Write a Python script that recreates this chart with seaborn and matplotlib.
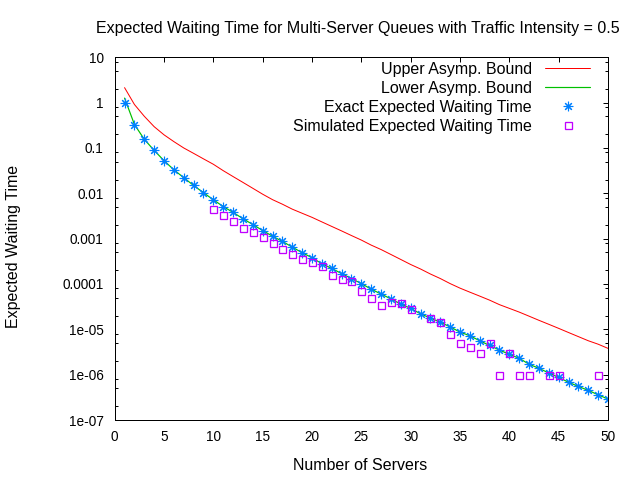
import numpy as np
import pandas as pd
import matplotlib
matplotlib.use("Agg")
import matplotlib.pyplot as plt
import seaborn as sns
from matplotlib.ticker import FixedLocator, FixedFormatter, NullFormatter

# ---- data ----
servers = list(range(1, 51))

upper_bound = [2.14, 0.91, 0.50, 0.295, 0.195, 0.138, 0.100, 0.076, 0.0575, 0.0437,
               0.0316, 0.0234, 0.0174, 0.0129, 0.00955, 0.00724, 0.00575, 0.00447, 0.00363, 0.00295,
               0.00234, 0.00186, 0.00148, 0.00117, 9.3e-4, 7.2e-4, 5.75e-4, 4.47e-4, 3.47e-4, 2.69e-4,
               2.14e-4, 1.66e-4, 1.32e-4, 1.02e-4, 8.1e-5, 6.6e-5, 5.4e-5, 4.4e-5, 3.5e-5, 2.9e-5,
               2.4e-5, 1.95e-5, 1.58e-5, 1.29e-5, 1.05e-5, 8.5e-6, 6.9e-6, 5.6e-6, 4.7e-6, 3.8e-6]

exact_wait = [1.0, 0.327, 0.155, 0.0885, 0.0525, 0.033, 0.0221, 0.0149, 0.0103, 0.0072,
              0.0051, 0.0038, 0.00275, 0.00205, 0.00151, 0.00113, 0.00087, 6.5e-4, 4.9e-4, 3.8e-4,
              2.8e-4, 2.2e-4, 1.7e-4, 1.32e-4, 1.02e-4, 7.7e-5, 6.0e-5, 4.7e-5, 3.6e-5, 2.9e-5,
              2.2e-5, 1.77e-5, 1.44e-5, 1.13e-5, 8.7e-6, 7.2e-6, 5.6e-6, 4.4e-6, 3.5e-6, 2.8e-6,
              2.3e-6, 1.7e-6, 1.38e-6, 1.09e-6, 8.7e-7, 6.8e-7, 5.5e-7, 4.5e-7, 3.6e-7, 2.9e-7]

lower_bound = [1.26, 0.33, 0.155, 0.0885, 0.0525, 0.033, 0.0221, 0.0149, 0.0103, 0.0072,
               0.0051, 0.0038, 0.00275, 0.00205, 0.00151, 0.00113, 0.00087, 6.5e-4, 4.9e-4, 3.8e-4,
               2.8e-4, 2.2e-4, 1.7e-4, 1.32e-4, 1.02e-4, 7.7e-5, 6.0e-5, 4.7e-5, 3.6e-5, 2.9e-5,
               2.2e-5, 1.77e-5, 1.44e-5, 1.13e-5, 8.7e-6, 7.2e-6, 5.6e-6, 4.4e-6, 3.5e-6, 2.8e-6,
               2.3e-6, 1.7e-6, 1.38e-6, 1.09e-6, 8.7e-7, 6.8e-7, 5.5e-7, 4.5e-7, 3.6e-7, 2.9e-7]

sim_servers = [10, 11, 12, 13, 14, 15, 16, 17, 18, 19, 20, 21, 22, 23, 24, 25, 26, 27, 28, 29,
               30, 32, 33, 34, 35, 36, 37, 38, 39, 40, 41, 42, 44, 45, 49]
sim_wait = [0.0046, 0.0034, 0.0025, 0.00175, 0.00143, 0.0011, 0.00079, 0.00058, 0.00045, 0.00036,
            0.00030, 0.00025, 0.000156, 0.000131, 0.000119, 7e-5, 5e-5, 3.5e-5, 4.1e-5, 3.8e-5,
            2.8e-5, 1.8e-5, 1.47e-5, 8e-6, 5e-6, 4e-6, 3e-6, 5e-6, 1e-6, 3e-6, 1e-6, 1e-6, 1e-6, 1e-6, 1e-6]

x_ticks = [0, 5, 10, 15, 20, 25, 30, 35, 40, 45, 50]
y_ticks = [10, 1, 0.1, 0.01, 0.001, 0.0001, 1e-05, 1e-06, 1e-07]
y_tick_labels = ["10", "1", "0.1", "0.01", "0.001", "0.0001", "1e-05", "1e-06", "1e-07"]

title = "Expected Waiting Time for Multi-Server Queues with Traffic Intensity = 0.5"
x_label = "Number of Servers"
y_label = "Expected Waiting Time"
labels = ["Upper Asymp. Bound", "Lower Asymp. Bound",
          "Exact Expected Waiting Time", "Simulated Expected Waiting Time"]

# ---- style ----
sns.set_theme(style="white")
plt.rcParams["font.family"] = ["Liberation Sans", "DejaVu Sans"]
TICK_FS = 9.8
TEXT_FS = 11.5

df = pd.DataFrame({"n": servers, "upper": upper_bound, "lower": lower_bound, "exact": exact_wait})
sim = pd.DataFrame({"n": sim_servers, "sim": sim_wait})

fig = plt.figure(figsize=(6.4, 4.8), dpi=100)
ax = fig.add_axes([114.7 / 640, 1 - 420 / 480, (608 - 114.7) / 640, (420 - 57.3) / 480])

PX = 0.72
sns.lineplot(data=df, x="n", y="upper", ax=ax, color="#ff0000", lw=1 * PX, label=labels[0])
sns.lineplot(data=df, x="n", y="lower", ax=ax, color="#00c000", lw=1.2 * PX, label=labels[1])
sns.lineplot(data=df, x="n", y="exact", ax=ax, color="#0080ff", linestyle="", marker=(8, 2, 0),
             markersize=9.5 * PX, markeredgewidth=1.1 * PX, markeredgecolor="#0080ff", label=labels[2])
sns.lineplot(data=sim, x="n", y="sim", ax=ax, color="#c000ff", linestyle="", marker="s",
             markersize=7 * PX, markerfacecolor="none", markeredgewidth=1.3 * PX,
             markeredgecolor="#c000ff", label=labels[3])

ax.set_yscale("log")
ax.set_xlim(0, 50)
ax.set_ylim(1e-7, 10)
ax.xaxis.set_major_locator(FixedLocator(x_ticks))
ax.set_xticklabels([str(v) for v in x_ticks])
ax.yaxis.set_major_locator(FixedLocator(y_ticks))
ax.yaxis.set_major_formatter(FixedFormatter(y_tick_labels))
minors = [m * 10.0 ** k for k in range(-7, 1) for m in (2, 5, 8)]
ax.yaxis.set_minor_locator(FixedLocator(minors))
ax.yaxis.set_minor_formatter(NullFormatter())

ax.tick_params(axis="both", which="major", direction="in", top=True, right=True,
               length=5 * PX, width=1 * PX, color="black", labelsize=TICK_FS, labelcolor="black")
ax.tick_params(axis="y", which="major", pad=8)
ax.tick_params(axis="x", which="major", pad=7)
ax.tick_params(axis="y", which="minor", direction="in", left=True, right=True,
               length=2.8 * PX, width=1 * PX, color="black")
for s in ax.spines.values():
    s.set_color("black")
    s.set_linewidth(1 * PX)

ax.set_xlabel("")
ax.set_ylabel("")
fig.text(360 / 640, 1 - 466 / 480, x_label, ha="center", va="center", fontsize=TEXT_FS, color="black")
fig.text(14 / 640, 1 - 246 / 480, y_label, ha="center", va="center", rotation=90,
         fontsize=TEXT_FS, color="black")
fig.text(358 / 640, 1 - 28 / 480, title, ha="center", va="center", fontsize=TEXT_FS, color="black")

leg = ax.legend(loc="upper right", bbox_to_anchor=((590 - 114.7) / 493.3, (420 - 62) / 362.7),
                markerfirst=False, frameon=False, borderpad=0, borderaxespad=0,
                handlelength=2.8, handletextpad=0.85, labelspacing=0.25, fontsize=TEXT_FS)
for t in leg.get_texts():
    t.set_color("black")

fig.savefig("out.png", dpi=100)
